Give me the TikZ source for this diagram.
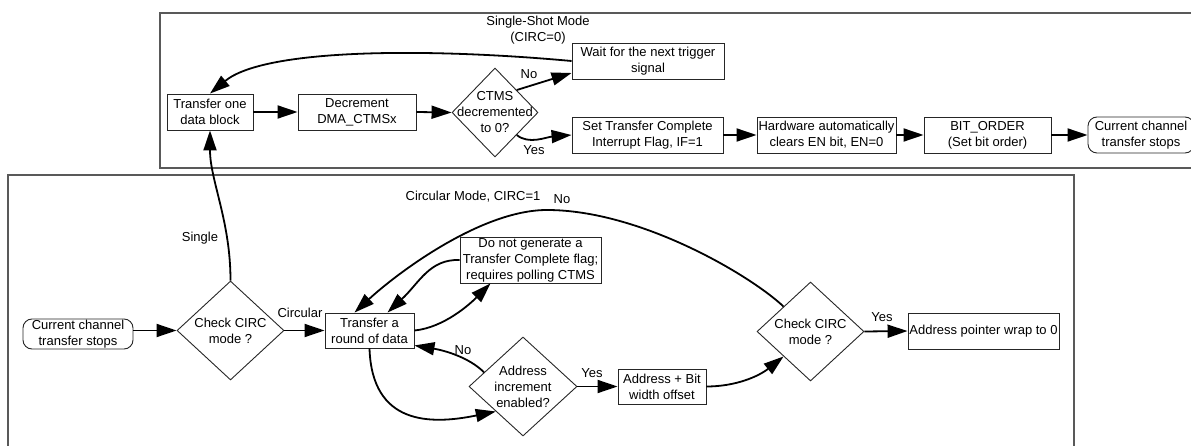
\documentclass[tikz,border=0pt]{standalone}
\usepackage{fontspec}
\setmainfont{Liberation Sans}
\usetikzlibrary{arrows.meta, shapes.geometric}

\tikzset{
  box/.style={draw=black!85, line width=0.9pt, rectangle, inner sep=0pt, align=center, minimum height=36pt},
  endbox/.style={box, rounded corners=9pt},
  decide/.style={draw=black!85, line width=0.9pt, diamond, inner sep=0pt, minimum width=107pt, minimum height=99pt},
  conn/.style={line width=1.8pt, -{Triangle[length=20pt,width=13pt]}},
  frame/.style={draw=black!65, line width=1.1pt},
  tag/.style={inner sep=0pt, align=center},
}

\begin{document}
\begin{tikzpicture}[x=1pt, y=-1pt, font=\fontsize{13}{16}\selectfont]
	\useasboundingbox (0,0) rectangle (1191,446);
	% mode frames
	\draw[frame] (1200,13) -- (160,13) -- (160,168) -- (1200,168);
	\draw[frame] (8,452) -- (8,175) -- (1074,175) -- (1074,452);
	
	% single-shot mode
	\node[tag] (ssmode) at (538,30) {Single-Shot Mode\\(CIRC=0)};
	\node[box, minimum width=86pt] (xferblk) at (210,112) {Transfer one\\data block};
	\node[box, minimum width=118pt] (decr) at (357,112) {Decrement\\DMA\_CTMSx};
	\node[decide, minimum width=86pt, minimum height=89pt, label={[tag]center:{CTMS\\decremented\\to 0?}}] (ctms) at (495,112.5) {};
	\node[box, minimum width=152pt] (waittrig) at (648,61) {Wait for the next trigger\\signal};
	\node[box, minimum width=151pt] (setif) at (647.5,135) {Set Transfer Complete\\Interrupt Flag, IF=1};
	\node[box, minimum width=139pt] (hwclr) at (826.5,135) {Hardware automatically\\clears EN bit, EN=0};
	\node[box, minimum width=127pt] (bitord) at (987.5,135) {BIT\_ORDER\\(Set bit order)};
	\node[endbox, minimum width=106pt] (stoptop) at (1141,135) {Current channel\\transfer stops};
	\node[tag] (lblno) at (529,74) {No};
	\node[tag] (lblyes) at (534,150) {Yes};
	
	\draw[conn] (xferblk.east) -- (decr.west);
	\draw[conn] (decr.east) -- (ctms.west);
	\draw[conn] (ctms.north east) -- ([yshift=-12pt]waittrig.west);
	\draw[conn] (ctms.south east) .. controls +(12,10) and +(-25,2) .. (setif.west);
	\draw[conn] (waittrig.west) .. controls (430,48) and (265,48) .. (xferblk.north);
	\draw[conn] (setif.east) -- (hwclr.west);
	\draw[conn] (hwclr.east) -- (bitord.west);
	\draw[conn] (bitord.east) -- (stoptop.west);
	
	% circular mode
	\node[tag] (cmode) at (473,197) {Circular Mode, CIRC=1};
	\node[endbox, minimum width=110pt, minimum height=30pt] (stopleft) at (78,334) {Current channel\\transfer stops};
	\node[decide, label={[tag]center:{Check CIRC\\mode ?}}] (chkL) at (230.5,330.5) {};
	\node[box, minimum width=89pt, minimum height=35pt] (xferrnd) at (369.5,330.5) {Transfer a\\round of data};
	\node[box, minimum width=141pt, minimum height=46pt] (nogen) at (530.5,260) {Do not generate a\\Transfer Complete flag;\\requires polling CTMS};
	\node[decide, minimum width=108pt, label={[tag]center:{Address\\increment\\enabled?}}] (addrinc) at (523,386.5) {};
	\node[box, minimum width=88pt, minimum height=35pt] (addrbit) at (662,386.5) {Address + Bit\\width offset};
	\node[decide, label={[tag]center:{Check CIRC\\mode ?}}] (chkR) at (810.5,331.5) {};
	\node[box, minimum width=151pt] (wrap) at (983.5,331) {Address pointer wrap to 0};
	\node[tag] (lblsingle) at (200,238) {Single};
	\node[tag] (lblcirc) at (300,313) {Circular};
	\node[tag] (lblnotop) at (562,199) {No};
	\node[tag] (lblnoinc) at (463,350) {No};
	\node[tag] (lblyesinc) at (592,373) {Yes};
	\node[tag] (lblyeswrap) at (882,317) {Yes};
	
	\draw[conn] (stopleft.east |- chkL.west) -- (chkL.west);
	\draw[conn] (chkL.east) -- (xferrnd.west);
	\draw[conn] (chkL.north) .. controls +(0,-60) and +(0,50) .. (xferblk.south);
	\draw[conn] (xferrnd.east) .. controls +(30,-3) and +(-20,20) .. ([xshift=-40pt]nogen.south);
	\draw[conn] (nogen.west) .. controls +(-30,-1) and +(32,-30) .. ([xshift=18pt]xferrnd.north);
	\draw[conn] (chkR.north west) .. controls (750,275) and (640,210) .. (547,210) .. controls (480,210) and (395,275) .. ([xshift=-15pt]xferrnd.north);
	\draw[conn] (xferrnd.south) .. controls (372,425) and (430,425) .. (addrinc.south west);
	\draw[conn] (addrinc.160) .. controls +(-15,-15) and +(30,5) .. ([yshift=3pt]xferrnd.south east);
	\draw[conn] (addrinc.east) -- (addrbit.west);
	\draw[conn] (addrbit.east) .. controls +(29,0) and +(-25,20) .. (chkR.south west);
	\draw[conn] (chkR.east) -- (wrap.west);
\end{tikzpicture}
\end{document}
